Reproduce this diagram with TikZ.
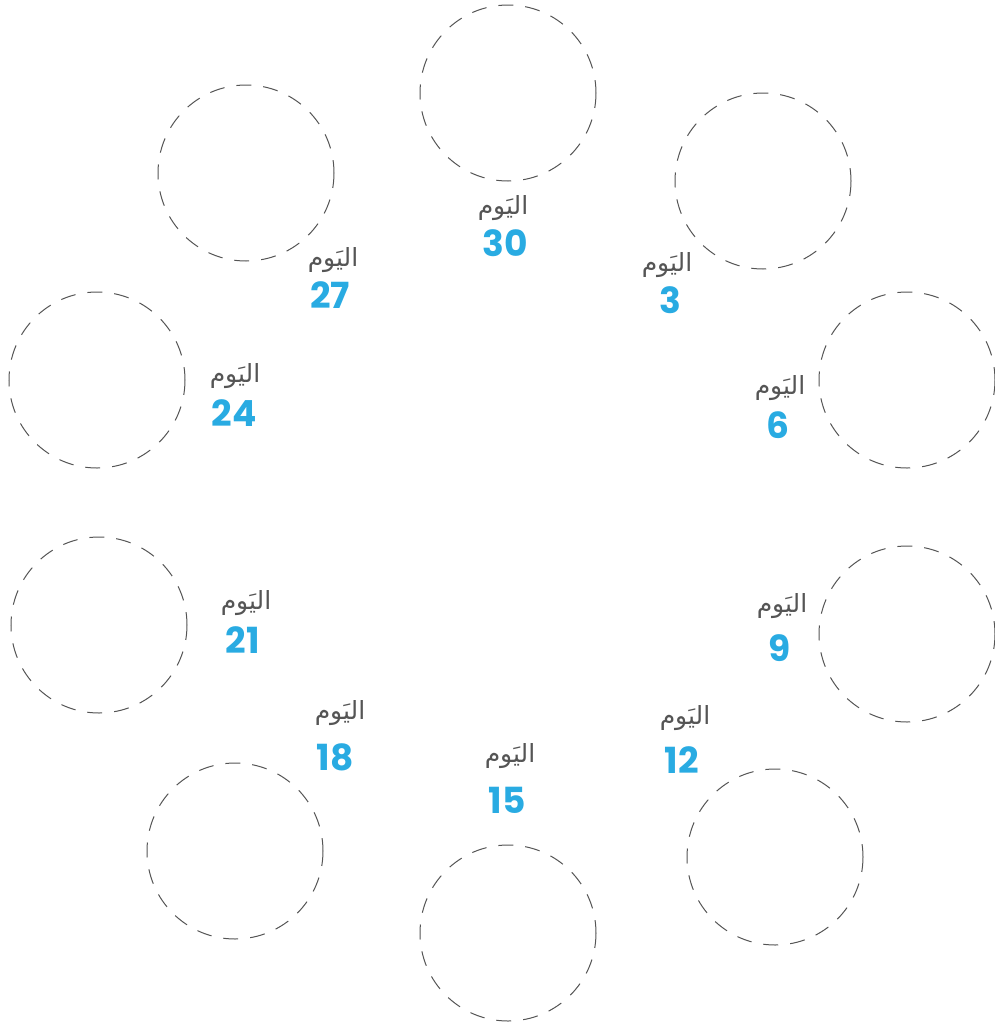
\documentclass[tikz,border=0pt]{standalone}
\usepackage{fontspec}
\setsansfont{Poppins}
\newfontfamily\arabicfont[Script=Arabic]{DejaVu Sans}
\TeXXeTstate=1
\definecolor{daytext}{RGB}{85,85,85}
\definecolor{dayblue}{RGB}{41,171,226}
\tikzset{
  slot/.style={draw=daytext, line width=1pt, dash pattern=on 15pt off 12pt},
  dayword/.style={text=daytext, font=\arabicfont\fontsize{25}{27}\selectfont, inner sep=0pt},
  daynum/.style={text=dayblue, font=\sffamily\bfseries\fontsize{36}{38}\selectfont, inner sep=0pt}
}
\begin{document}
\begin{tikzpicture}[x=1pt, y=-1pt]
    \useasboundingbox (0,0) rectangle (994,1026);

    % Cercles pointilles puis etiquettes (jour)
    \foreach \d/\cx/\cy/\ax/\ay/\nx/\ny in {
        30/508/93/503/208/505/243,
        3/763/181/667/265/670/300,
        6/907/380/780/388/778/425,
        9/907/634/782/606/780/648,
        12/775/857/685/718/682/760,
        15/508/933/510/756/507/800,
        18/235/851/340/713/335/757,
        21/99/625/246/603/243/640,
        24/97/380/235/376/234/413,
        27/246/173/333/260/330/295}
    {
        \draw[slot] (\cx,\cy) circle[radius=88];
        \node[dayword] (w\d) at (\ax,\ay) {\beginR اليَوم\endR};
        \node[daynum] (n\d) at (\nx,\ny) {\d};
    }
\end{tikzpicture}
\end{document}
